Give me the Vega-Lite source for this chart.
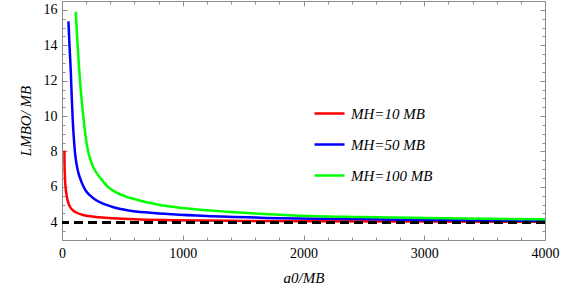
{
  "$schema": "https://vega.github.io/schema/vega-lite/v6.json",
  "width": 483,
  "height": 239,
  "autosize": "none",
  "padding": {"left": 62, "top": 1, "right": 31, "bottom": 48},
  "background": "white",
  "config": {
    "view": {"stroke": "#8c8c8c", "strokeWidth": 1},
    "axis": {"grid": false, "domain": false, "labelFlush": false, "labelColor": "black", "titleColor": "black", "tickColor": "#8c8c8c", "tickWidth": 1}
  },
  "data": {"values": [
    {"a": 19.9, "L": 8.05, "s": "MH=10 MB"},
    {"a": 21, "L": 7.3, "s": "MH=10 MB"},
    {"a": 23, "L": 6.8, "s": "MH=10 MB"},
    {"a": 25, "L": 6.41, "s": "MH=10 MB"},
    {"a": 30, "L": 5.95, "s": "MH=10 MB"},
    {"a": 39, "L": 5.48, "s": "MH=10 MB"},
    {"a": 50, "L": 5.15, "s": "MH=10 MB"},
    {"a": 66, "L": 4.88, "s": "MH=10 MB"},
    {"a": 90, "L": 4.68, "s": "MH=10 MB"},
    {"a": 122, "L": 4.54, "s": "MH=10 MB"},
    {"a": 160, "L": 4.44, "s": "MH=10 MB"},
    {"a": 219, "L": 4.35, "s": "MH=10 MB"},
    {"a": 300, "L": 4.28, "s": "MH=10 MB"},
    {"a": 413, "L": 4.23, "s": "MH=10 MB"},
    {"a": 600, "L": 4.17, "s": "MH=10 MB"},
    {"a": 911, "L": 4.12, "s": "MH=10 MB"},
    {"a": 1500, "L": 4.08, "s": "MH=10 MB"},
    {"a": 2000, "L": 4.06, "s": "MH=10 MB"},
    {"a": 3000, "L": 4.04, "s": "MH=10 MB"},
    {"a": 4000, "L": 4.03, "s": "MH=10 MB"},
    {"a": 53.2, "L": 15.35, "s": "MH=50 MB"},
    {"a": 62, "L": 14.0, "s": "MH=50 MB"},
    {"a": 72.3, "L": 12.6, "s": "MH=50 MB"},
    {"a": 80, "L": 11.2, "s": "MH=50 MB"},
    {"a": 89, "L": 9.78, "s": "MH=50 MB"},
    {"a": 98, "L": 8.75, "s": "MH=50 MB"},
    {"a": 108, "L": 7.91, "s": "MH=50 MB"},
    {"a": 120, "L": 7.3, "s": "MH=50 MB"},
    {"a": 136, "L": 6.79, "s": "MH=50 MB"},
    {"a": 160, "L": 6.3, "s": "MH=50 MB"},
    {"a": 191, "L": 5.85, "s": "MH=50 MB"},
    {"a": 230, "L": 5.53, "s": "MH=50 MB"},
    {"a": 274, "L": 5.29, "s": "MH=50 MB"},
    {"a": 330, "L": 5.08, "s": "MH=50 MB"},
    {"a": 413, "L": 4.88, "s": "MH=50 MB"},
    {"a": 551, "L": 4.67, "s": "MH=50 MB"},
    {"a": 728, "L": 4.54, "s": "MH=50 MB"},
    {"a": 911, "L": 4.45, "s": "MH=50 MB"},
    {"a": 1200, "L": 4.35, "s": "MH=50 MB"},
    {"a": 1642, "L": 4.26, "s": "MH=50 MB"},
    {"a": 2473, "L": 4.18, "s": "MH=50 MB"},
    {"a": 3000, "L": 4.13, "s": "MH=50 MB"},
    {"a": 4000, "L": 4.07, "s": "MH=50 MB"},
    {"a": 114, "L": 15.89, "s": "MH=100 MB"},
    {"a": 125, "L": 14.5, "s": "MH=100 MB"},
    {"a": 141, "L": 12.77, "s": "MH=100 MB"},
    {"a": 160, "L": 11.1, "s": "MH=100 MB"},
    {"a": 178, "L": 9.9, "s": "MH=100 MB"},
    {"a": 205, "L": 8.4, "s": "MH=100 MB"},
    {"a": 247, "L": 7.3, "s": "MH=100 MB"},
    {"a": 290, "L": 6.75, "s": "MH=100 MB"},
    {"a": 330, "L": 6.4, "s": "MH=100 MB"},
    {"a": 380, "L": 6.0, "s": "MH=100 MB"},
    {"a": 440, "L": 5.72, "s": "MH=100 MB"},
    {"a": 520, "L": 5.48, "s": "MH=100 MB"},
    {"a": 606, "L": 5.3, "s": "MH=100 MB"},
    {"a": 700, "L": 5.13, "s": "MH=100 MB"},
    {"a": 811, "L": 4.98, "s": "MH=100 MB"},
    {"a": 911, "L": 4.88, "s": "MH=100 MB"},
    {"a": 1100, "L": 4.74, "s": "MH=100 MB"},
    {"a": 1365, "L": 4.6, "s": "MH=100 MB"},
    {"a": 1642, "L": 4.48, "s": "MH=100 MB"},
    {"a": 1919, "L": 4.39, "s": "MH=100 MB"},
    {"a": 2473, "L": 4.3, "s": "MH=100 MB"},
    {"a": 3000, "L": 4.24, "s": "MH=100 MB"},
    {"a": 3500, "L": 4.2, "s": "MH=100 MB"},
    {"a": 4000, "L": 4.17, "s": "MH=100 MB"}
  ]},
  "resolve": {"axis": {"x": "independent", "y": "independent"}},
  "layer": [
    {
      "mark": {"type": "point", "opacity": 0},
      "encoding": {
        "x": {"field": "a", "type": "quantitative", "scale": {"domain": [0, 4000], "nice": false, "zero": false, "padding": 0}, "axis": {"orient": "bottom", "values": [0, 1000, 2000, 3000, 4000], "labels": false, "title": null, "offset": -5, "tickSize": 5}},
        "y": {"field": "L", "type": "quantitative", "scale": {"domain": [3, 16.5], "nice": false, "zero": false, "padding": 0}, "axis": {"orient": "left", "values": [4, 6, 8, 10, 12, 14, 16], "labels": false, "title": null, "offset": -5, "tickSize": 5}}
      }
    },
    {
      "mark": {"type": "point", "opacity": 0},
      "encoding": {
        "x": {"field": "a", "type": "quantitative", "axis": {"orient": "bottom", "values": [200, 400, 600, 800, 1200, 1400, 1600, 1800, 2200, 2400, 2600, 2800, 3200, 3400, 3600, 3800], "labels": false, "title": null, "offset": -3, "tickSize": 3}},
        "y": {"field": "L", "type": "quantitative", "axis": {"orient": "left", "values": [3, 3.5, 4.5, 5, 5.5, 6.5, 7, 7.5, 8.5, 9, 9.5, 10.5, 11, 11.5, 12.5, 13, 13.5, 14.5, 15, 15.5, 16.5], "labels": false, "title": null, "offset": -3, "tickSize": 3}}
      }
    },
    {
      "mark": {"type": "point", "opacity": 0},
      "encoding": {
        "x": {"field": "a", "type": "quantitative", "axis": {"orient": "top", "values": [0, 1000, 2000, 3000, 4000], "labels": false, "title": null, "offset": -5, "tickSize": 5}},
        "y": {"field": "L", "type": "quantitative", "axis": {"orient": "right", "values": [4, 6, 8, 10, 12, 14, 16], "labels": false, "title": null, "offset": -5, "tickSize": 5}}
      }
    },
    {
      "mark": {"type": "point", "opacity": 0},
      "encoding": {
        "x": {"field": "a", "type": "quantitative", "axis": {"orient": "top", "values": [200, 400, 600, 800, 1200, 1400, 1600, 1800, 2200, 2400, 2600, 2800, 3200, 3400, 3600, 3800], "labels": false, "title": null, "offset": -3, "tickSize": 3}},
        "y": {"field": "L", "type": "quantitative", "axis": {"orient": "right", "values": [3, 3.5, 4.5, 5, 5.5, 6.5, 7, 7.5, 8.5, 9, 9.5, 10.5, 11, 11.5, 12.5, 13, 13.5, 14.5, 15, 15.5, 16.5], "labels": false, "title": null, "offset": -3, "tickSize": 3}}
      }
    },
    {
      "mark": {"type": "line", "strokeWidth": 2.5, "interpolate": "monotone", "clip": true},
      "encoding": {
        "x": {"field": "a", "type": "quantitative", "axis": {"orient": "bottom", "values": [0, 1000, 2000, 3000, 4000], "format": "d", "ticks": false, "labelFlush": false, "labelPadding": 6, "labelFont": "Liberation Serif", "labelFontSize": 14, "title": "a0/MB", "titleFont": "Liberation Serif", "titleFontSize": 15, "titleFontStyle": "italic", "titleFontWeight": "normal", "titlePadding": 10}},
        "y": {"field": "L", "type": "quantitative", "axis": {"orient": "left", "values": [4, 6, 8, 10, 12, 14, 16], "format": "d", "ticks": false, "labelFlush": false, "labelPadding": 5, "labelFont": "Liberation Serif", "labelFontSize": 14, "title": "LMBO/ MB", "titleFont": "Liberation Serif", "titleFontSize": 15, "titleFontStyle": "italic", "titleFontWeight": "normal", "titlePadding": 10}},
        "color": {"field": "s", "type": "nominal", "sort": ["MH=10 MB", "MH=50 MB", "MH=100 MB"], "scale": {"domain": ["MH=10 MB", "MH=50 MB", "MH=100 MB"], "range": ["#ff0000", "#0000ff", "#00ff00"]},
          "legend": {"orient": "none", "legendX": 251, "legendY": 96, "title": null, "padding": 0, "symbolType": "M-1,0L1,0", "symbolSize": 900, "symbolStrokeWidth": 2.5, "labelFont": "Liberation Serif", "labelFontStyle": "italic", "labelFontSize": 15, "labelColor": "black", "labelOffset": 5, "rowPadding": 6}}
      }
    },
    {
      "mark": {"type": "rule", "color": "black", "strokeWidth": 2.5, "strokeDash": [9, 5]},
      "encoding": {"y": {"datum": 4, "type": "quantitative", "axis": null}}
    }
  ]
}
